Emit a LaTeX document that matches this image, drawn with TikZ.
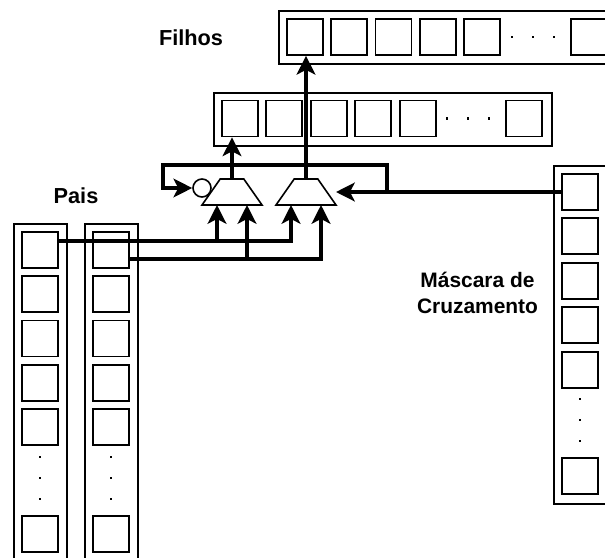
\documentclass[tikz,border=0pt]{standalone}
\usepackage{fontspec}
\setmainfont{Liberation Sans}
\usetikzlibrary{arrows.meta,shapes.geometric}

\tikzset{
    cell/.style={draw, line width=1.3pt, minimum size=27pt, inner sep=0pt},
    frame/.style={draw, line width=1.15pt, inner sep=0pt},
    pdot/.style={fill, minimum size=2pt, inner sep=0pt},
    mux/.style={draw, line width=1.2pt, fill=white, trapezium, trapezium angle=52.4, trapezium stretches=true, minimum width=45pt, minimum height=19.5pt, inner sep=1pt},
    wire/.style={line width=3.3pt},
    wirearrow/.style={wire, -{Stealth[length=14pt,width=14pt,inset=3.5pt]}},
    title/.style={font=\bfseries\fontsize{16.3pt}{19.5pt}\selectfont, align=center},
    titlesmall/.style={font=\bfseries\fontsize{15.7pt}{19.5pt}\selectfont, align=center}
}

\begin{document}
\begin{tikzpicture}[x=0.75pt, y=-0.75pt]
    \clip (0,0) rectangle (605,557);

    % Frames
    \node[frame, minimum width=300pt, minimum height=39.75pt, anchor=north west] (filhos) at (278,10) {};
    \node[frame, minimum width=253.5pt, minimum height=39.75pt, anchor=north west] (inter) at (213,92) {};
    \node[frame, minimum width=39.75pt, minimum height=300pt, anchor=north west] (paia) at (13,223) {};
    \node[frame, minimum width=39.75pt, minimum height=300pt, anchor=north west] (paib) at (84,223) {};
    \node[frame, minimum width=60pt, minimum height=253.5pt, anchor=north west] (mask) at (553,165) {};

    % Cells
    \foreach \i/\x in {1/305, 2/349, 3/393.5, 4/438, 5/482, 6/589}
        \node[cell] (f\i) at (\x,37) {};
    \foreach \i/\x in {1/240, 2/284, 3/329, 4/373, 5/418, 6/524}
        \node[cell] (t\i) at (\x,118.5) {};
    \foreach \i/\y in {1/250, 2/294, 3/338.5, 4/383, 5/427, 6/534} {
        \node[cell] (a\i) at (40,\y) {};
        \node[cell] (b\i) at (111,\y) {};
    }
    \foreach \i/\y in {1/192, 2/236, 3/281, 4/325, 5/370, 6/476}
        \node[cell] (m\i) at (580,\y) {};

    % Dots
    \foreach \x in {512, 533, 554}
        \node[pdot] at (\x,37) {};
    \foreach \x in {447, 468, 489}
        \node[pdot] at (\x,118.5) {};
    \foreach \y in {457, 478, 499} {
        \node[pdot] at (40,\y) {};
        \node[pdot] at (111,\y) {};
    }
    \foreach \y in {399, 420, 441}
        \node[pdot] at (580,\y) {};

    % Muxes
    \node[mux] (muxa) at (232,192) {};
    \node[mux] (muxb) at (306,192) {};
    \node[draw, circle, line width=1.2pt, minimum size=13.5pt, inner sep=0pt] (neg) at (202,188) {};

    % Labels
    \node[title] (lfilhos) at (191,38) {Filhos};
    \node[title] (lpais) at (76,196) {Pais};
    \node[titlesmall] (lmask) at (477.5,293) {Máscara de\\Cruzamento};

    % Wire points
    \coordinate (sa) at (58,241);
    \coordinate (sb) at (129,259);
    \coordinate (ina) at (217,205);
    \coordinate (inb) at (247,205);
    \coordinate (inc) at (291,205);
    \coordinate (ind) at (321,205);
    \coordinate (sel) at (336,192);
    \coordinate (fb) at (387,192);
    \coordinate (fbl) at (163,165);

    % Arrows
    \draw[wirearrow] (muxa.north) -- (muxa.north |- t1.south);
    \draw[wirearrow] (muxb.north) -- (muxb.north |- f1.south);
    \draw[wirearrow] (sa) -| (inc);
    \draw[wirearrow] (sb) -| (ind);
    \draw[wirearrow] (ina |- sa) -- (ina);
    \draw[wirearrow] (inb |- sb) -- (inb);
    \draw[wirearrow] (m1.west) -- (sel);
    \draw[wirearrow] (fb) |- (fbl) |- (neg.west);
\end{tikzpicture}
\end{document}
